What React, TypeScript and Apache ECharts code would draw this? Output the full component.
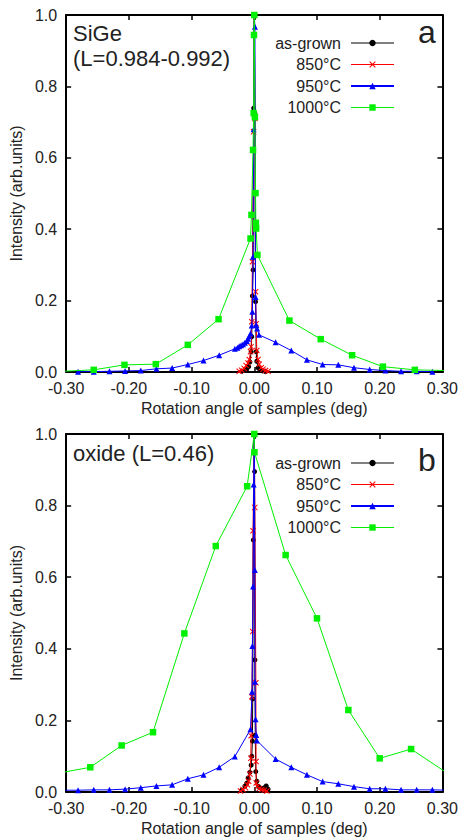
import React, { useEffect, useRef } from "react";
import * as echarts from "echarts";

const FONT = "'Liberation Sans', Arial, Helvetica, sans-serif";

const seriesNames = ["as-grown", "850°C", "950°C", "1000°C"];
const seriesColors = ["#000000", "#ff0000", "#0000ff", "#00f000"];
const legendLineWidths = [1, 1, 2, 1];
const xTickLabelsMin = -0.3;
const xTickLabelsMax = 0.3;
const xTickStep = 0.1;
const yTickStep = 0.2;
const xTitle = "Rotation angle of samples (deg)";
const yTitle = "Intensity (arb.units)";
const panelLetters = ["a", "b"];
const panelTitlesA = ["SiGe", "(L=0.984-0.992)"];
const panelTitlesB = ["oxide (L=0.46)"];

// ---- Panel a (SiGe) ----
const asGrownA: [number, number][] = [
  [-0.02, 0.002], [-0.016, 0.004], [-0.012, 0.008], [-0.009, 0.015], [-0.007, 0.028],
  [-0.005, 0.057], [-0.004, 0.099], [-0.003, 0.213], [-0.002, 0.286], [-0.001, 0.739],
  [0, 1.0], [0.001, 0.724], [0.002, 0.197], [0.003, 0.057], [0.004, 0.03],
  [0.006, 0.012], [0.009, 0.006], [0.013, 0.003], [0.018, 0.001],
];
const c850A: [number, number][] = [
  [-0.024, 0.002], [-0.02, 0.005], [-0.016, 0.01], [-0.013, 0.018], [-0.01, 0.025],
  [-0.008, 0.035], [-0.006, 0.057], [-0.005, 0.071], [-0.004, 0.141], [-0.003, 0.309],
  [-0.001, 0.673], [0, 1.0], [0.001, 0.71], [0.002, 0.225], [0.003, 0.135],
  [0.004, 0.06], [0.006, 0.035], [0.008, 0.022], [0.011, 0.012], [0.014, 0.008],
  [0.018, 0.004], [0.022, 0.002],
];
const c950A: [number, number][] = [
  [-0.281, 0.001], [-0.256, 0.001], [-0.231, 0.002], [-0.206, 0.003], [-0.181, 0.004],
  [-0.156, 0.009], [-0.131, 0.011], [-0.106, 0.021], [-0.081, 0.032], [-0.056, 0.047],
  [-0.031, 0.065], [-0.027, 0.068], [-0.024, 0.072], [-0.021, 0.075], [-0.018, 0.078],
  [-0.015, 0.082], [-0.012, 0.087], [-0.01, 0.093], [-0.008, 0.1], [-0.006, 0.108],
  [-0.004, 0.13], [-0.003, 0.169], [-0.002, 0.323], [-0.001, 0.68], [0, 1.0],
  [0.001, 0.967], [0.002, 0.21], [0.003, 0.132], [0.0045, 0.122], [0.0076, 0.104],
  [0.034, 0.083], [0.059, 0.06], [0.084, 0.034], [0.109, 0.021], [0.134, 0.02],
  [0.159, 0.012], [0.184, 0.007], [0.209, 0.004], [0.234, 0.002], [0.259, 0.002],
  [0.284, 0.001],
];
const c1000A: [number, number][] = [
  [-0.306, 0.002], [-0.256, 0.006], [-0.207, 0.02], [-0.157, 0.022], [-0.106, 0.076],
  [-0.057, 0.148], [-0.006, 0.374], [-0.0045, 0.44], [-0.002, 0.622], [-0.001, 0.725],
  [-0.0005, 0.944], [0, 1.0], [0.001, 0.714], [0.002, 0.501], [0.0025, 0.418],
  [0.003, 0.402], [0.005, 0.328], [0.056, 0.144], [0.106, 0.092], [0.156, 0.047],
  [0.205, 0.015], [0.256, 0.006], [0.306, 0.004],
];

// ---- Panel b (oxide) ----
const asGrownB: [number, number][] = [
  [-0.02, 0.005], [-0.015, 0.016], [-0.012, 0.025], [-0.0098, 0.039], [-0.007, 0.055],
  [-0.005, 0.075], [-0.004, 0.1], [-0.003, 0.142], [-0.0025, 0.26], [-0.0015, 0.704],
  [0, 1.0], [0.0005, 0.895], [0.001, 0.369], [0.0015, 0.158], [0.0024, 0.057],
  [0.004, 0.03], [0.007, 0.015], [0.011, 0.01], [0.016, 0.012], [0.019, 0.017],
  [0.022, 0.008],
];
const c850B: [number, number][] = [
  [-0.022, 0.003], [-0.018, 0.007], [-0.014, 0.012], [-0.011, 0.02], [-0.009, 0.03],
  [-0.007, 0.05], [-0.0055, 0.094], [-0.005, 0.157], [-0.004, 0.266], [-0.0025, 0.448],
  [-0.002, 0.73], [0, 1.0], [0.0008, 0.795], [0.0025, 0.305], [0.0028, 0.085],
  [0.003, 0.025], [0.005, 0.015], [0.008, 0.01], [0.012, 0.007], [0.016, 0.005],
  [0.02, 0.003],
];
const c950B: [number, number][] = [
  [-0.306, 0.005], [-0.281, 0.005], [-0.256, 0.006], [-0.231, 0.006], [-0.206, 0.008],
  [-0.181, 0.012], [-0.156, 0.017], [-0.131, 0.02], [-0.106, 0.037], [-0.081, 0.048],
  [-0.056, 0.069], [-0.031, 0.099], [-0.006, 0.175], [-0.0035, 0.28], [-0.003, 0.408],
  [-0.002, 0.574], [-0.001, 0.859], [0, 1.0], [0.0008, 0.62], [0.001, 0.308],
  [0.002, 0.203], [0.003, 0.159], [0.004, 0.144], [0.034, 0.092], [0.059, 0.069],
  [0.084, 0.048], [0.109, 0.029], [0.134, 0.023], [0.159, 0.015], [0.184, 0.009],
  [0.209, 0.009], [0.234, 0.006], [0.259, 0.006], [0.284, 0.006], [0.309, 0.005],
];
const c1000B: [number, number][] = [
  [-0.3115, 0.053], [-0.2615, 0.069], [-0.2115, 0.13], [-0.1615, 0.167], [-0.1115, 0.443],
  [-0.0614, 0.687], [-0.0114, 0.854], [0, 1.0], [0.0003, 0.949], [0.05, 0.662],
  [0.1, 0.485], [0.15, 0.229], [0.2, 0.094], [0.25, 0.12], [0.31, 0.05],
];

const panelA = [asGrownA, c850A, c950A, c1000A];
const panelB = [asGrownB, c850B, c950B, c1000B];

const CROSS = "path://M0,1.2L1.2,0L5,3.8L8.8,0L10,1.2L6.2,5L10,8.8L8.8,10L5,6.2L1.2,10L0,8.8L3.8,5Z";
const symbols = ["circle", CROSS, "triangle", "rect"];
const symbolSizes = [5, 6, 6, 6.5];

export default function App() {
  const ref = useRef<HTMLDivElement>(null);
  useEffect(() => {
    if (!ref.current) return;
    const chart = echarts.init(ref.current, undefined, { renderer: "svg" });

    const grids = [
      { left: 65, top: 15, width: 379, height: 357 },
      { left: 65, top: 434, width: 379, height: 358 },
    ];

    const axisLine = { show: true, onZero: false, lineStyle: { color: "#000", width: 2 } };
    const axisTick = { show: true, inside: true, length: 5, lineStyle: { color: "#000", width: 1.5 } };

    const xAxes: any[] = [];
    const yAxes: any[] = [];
    [0, 1].forEach((g) => {
      xAxes.push({
        type: "value", gridIndex: g, position: "bottom",
        min: xTickLabelsMin, max: xTickLabelsMax, interval: xTickStep,
        axisLine, axisTick, splitLine: { show: false },
        axisLabel: {
          margin: 8, color: "#222", fontSize: 16, fontFamily: FONT,
          formatter: (v: number) => v.toFixed(2),
        },
        name: xTitle, nameLocation: "middle", nameGap: 28,
        nameTextStyle: { fontSize: 16, color: "#222", fontFamily: FONT },
      });
      xAxes.push({
        type: "value", gridIndex: g, position: "top",
        min: xTickLabelsMin, max: xTickLabelsMax, interval: xTickStep,
        axisLine, axisTick, splitLine: { show: false }, axisLabel: { show: false },
      });
      yAxes.push({
        type: "value", gridIndex: g, position: "left",
        min: 0, max: 1, interval: yTickStep,
        axisLine, axisTick, splitLine: { show: false },
        axisLabel: {
          margin: 9, color: "#222", fontSize: 16, fontFamily: FONT,
          formatter: (v: number) => v.toFixed(1),
        },
        name: yTitle, nameLocation: "middle", nameGap: 37,
        nameTextStyle: { fontSize: 16, color: "#222", fontFamily: FONT },
      });
      yAxes.push({
        type: "value", gridIndex: g, position: "right",
        min: 0, max: 1, interval: yTickStep,
        axisLine, axisTick, splitLine: { show: false }, axisLabel: { show: false },
      });
    });

    const series: any[] = [];
    [panelA, panelB].forEach((panel, g) => {
      panel.forEach((data, i) => {
        series.push({
          type: "line",
          name: seriesNames[i],
          data,
          xAxisIndex: g * 2,
          yAxisIndex: g * 2,
          symbol: symbols[i],
          symbolSize: symbolSizes[i],
          showSymbol: true,
          showAllSymbol: true,
          clip: true,
          lineStyle: { color: seriesColors[i], width: 1 },
          itemStyle: { color: seriesColors[i] },
          emphasis: { disabled: true },
          z: 2 + i,
        });
      });
    });

    const legendTops = [35, 455];
    const legends = legendTops.map((top) => ({
      data: seriesNames.map((name, i) => ({
        name,
        lineStyle: { width: legendLineWidths[i], color: seriesColors[i] },
      })),
      orient: "vertical",
      align: "right",
      right: 66,
      top,
      padding: 0,
      itemWidth: 43,
      itemHeight: 8,
      itemGap: 5.5,
      selectedMode: false,
      textStyle: { fontSize: 16, color: "#222", fontFamily: FONT, padding: [0, 5, 0, 0] },
    }));

    const textStyle = (text: string, size: number) => ({
      text, fontSize: size, fontFamily: FONT, fill: "#222", verticalAlign: "middle",
    });

    const graphic: any[] = [
      { type: "text", x: 73, y: 33, style: { ...textStyle(panelTitlesA[0], 22), align: "left" } },
      { type: "text", x: 73, y: 58, style: { ...textStyle(panelTitlesA[1], 22), align: "left" } },
      { type: "text", x: 73, y: 453, style: { ...textStyle(panelTitlesB[0], 22), align: "left" } },
      { type: "text", x: 427, y: 32, style: { ...textStyle(panelLetters[0], 32), align: "center" } },
      { type: "text", x: 427, y: 460, style: { ...textStyle(panelLetters[1], 32), align: "center" } },
    ];

    chart.setOption({
      animation: false,
      backgroundColor: "#fff",
      grid: grids,
      xAxis: xAxes,
      yAxis: yAxes,
      legend: legends,
      series,
      graphic,
    });
    return () => chart.dispose();
  }, []);
  return (
    <div
      ref={ref}
      style={{ position: "fixed", left: 0, top: 0, width: 461, height: 840, background: "#fff" }}
    />
  );
}
